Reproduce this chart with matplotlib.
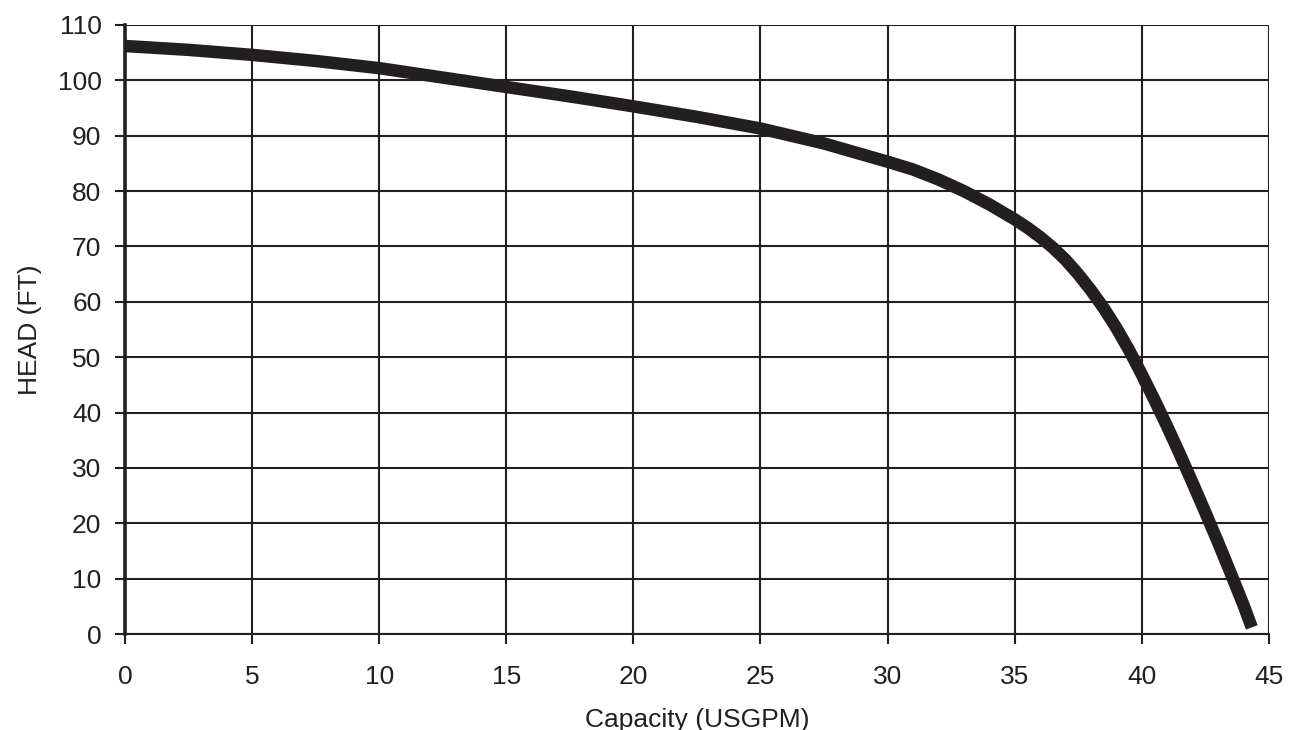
import matplotlib
matplotlib.use("Agg")
import matplotlib.pyplot as plt

# pump curve values
capacity = [0, 2.5, 5, 7.5, 10, 12.5, 15, 17.5, 20, 22.5, 25, 27.5, 30, 31, 32, 33, 34, 35,
            35.5, 36, 36.5, 37, 37.5, 38, 38.5, 39, 39.5, 40, 40.5, 41, 41.5, 42, 42.5, 43,
            43.5, 44, 44.33]
head = [106.2, 105.5, 104.6, 103.5, 102.2, 100.5, 98.8, 97.1, 95.3, 93.4, 91.3, 88.6, 85.3, 83.9,
        82.1, 80.0, 77.6, 74.9, 73.4, 71.7, 69.8, 67.6, 65.0, 62.1, 58.9, 55.3, 51.3, 46.9, 42.3,
        37.5, 32.5, 27.3, 22.0, 16.6, 11.0, 5.3, 1.2]

xticks = list(range(0, 50, 5))
yticks = list(range(0, 120, 10))

def main():
    plt.rcParams['font.family'] = ['Liberation Sans', 'DejaVu Sans']
    ink = '#231f20'
    fig = plt.figure(figsize=(12.96, 7.30), dpi=100)
    ax = fig.add_axes([0.0965, 0.1315, 0.8825, 0.8343])

    ax.plot(capacity, head, color=ink, linewidth=9, solid_capstyle='butt',
            solid_joinstyle='round', zorder=3)

    ax.set_xlim(0, 45)
    ax.set_ylim(0, 110)
    ax.set_xticks(xticks)
    ax.set_yticks(yticks)
    ax.grid(True, color=ink, linewidth=1.5)
    ax.set_axisbelow(True)
    for s in ['top', 'right']:
        ax.spines[s].set_visible(False)
    ax.spines['left'].set_linewidth(2.6)
    ax.spines['left'].set_color(ink)
    ax.spines['bottom'].set_linewidth(1.5)
    ax.spines['bottom'].set_color(ink)
    ax.tick_params(axis='both', length=7, width=1.5, color=ink, labelsize=19, labelcolor=ink)
    ax.tick_params(axis='x', pad=15)
    ax.tick_params(axis='y', pad=10)
    ax.set_xlabel("Capacity (USGPM)", fontsize=19, color=ink, labelpad=14)
    ax.set_ylabel("HEAD (FT)", fontsize=19, color=ink, labelpad=11)

    fig.savefig("out.png", dpi=100)

if __name__ == "__main__":
    main()
